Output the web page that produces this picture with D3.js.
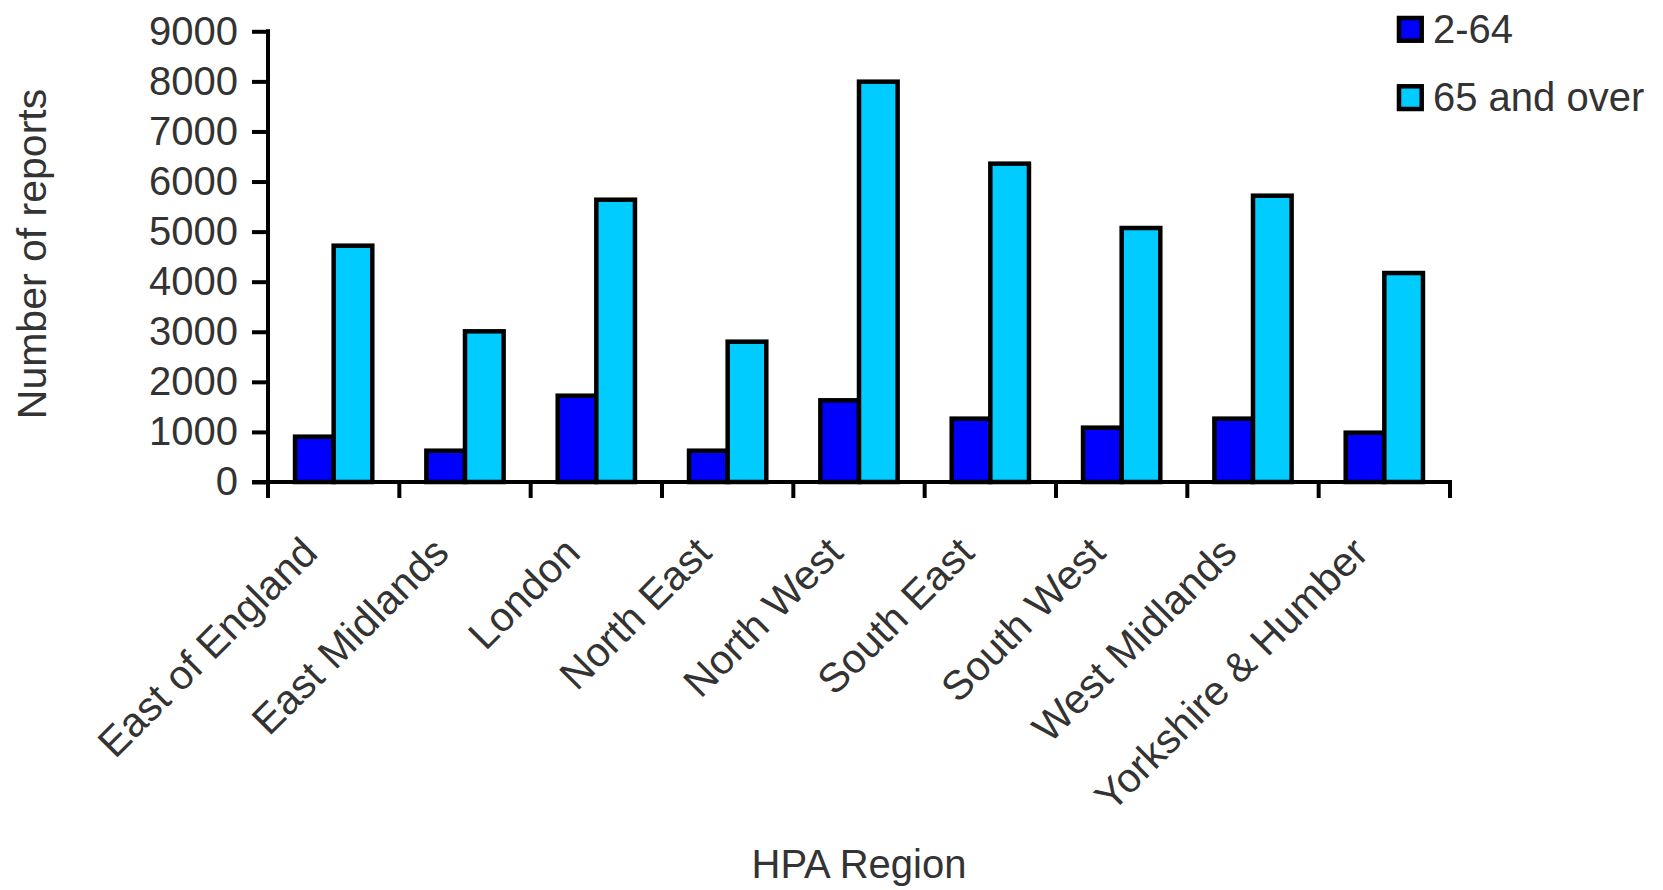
<!DOCTYPE html>
<html>
<head>
<meta charset="utf-8">
<script src="https://cdn.jsdelivr.net/npm/d3@7/dist/d3.min.js"></script>
<style>
  html, body { margin: 0; padding: 0; background: #fff; }
  svg { display: block; }
  text { font-family: "Liberation Sans", Arial, sans-serif; fill: #333; }
</style>
</head>
<body>
<svg id="chart" width="1663" height="890"></svg>
<script>
// Reports by HPA region, split by age group
const regions = ["East of England", "East Midlands", "London", "North East", "North West",
                 "South East", "South West", "West Midlands", "Yorkshire & Humber"];
const seriesNames = ["2-64", "65 and over"];
const age2to64 = [905, 625, 1723, 625, 1631, 1265, 1085, 1265, 985];
const age65plus = [4719, 3009, 5637, 2802, 7994, 6357, 5072, 5717, 4173];
const seriesColors = ["#0000ff", "#00ccff"];
const yTicks = [0, 1000, 2000, 3000, 4000, 5000, 6000, 7000, 8000, 9000];

const rows = regions.map((r, i) => ({ region: r, values: [age2to64[i], age65plus[i]] }));

const svg = d3.select("#chart");
const plotLeft = 268, plotRight = 1450, plotTop = 31.3, plotBottom = 482;

const x0 = d3.scaleBand().domain(regions).range([plotLeft, plotRight]).padding(0);
const x1 = d3.scaleBand().domain(seriesNames).range([0, x0.bandwidth()])
  .paddingInner(0).paddingOuter(0.7);
const y = d3.scaleLinear().domain([0, 9000]).range([plotBottom, plotTop]);

// Bars
const groups = svg.append("g").selectAll("g").data(rows).join("g")
  .attr("transform", d => `translate(${x0(d.region)},0)`);
groups.selectAll("rect")
  .data(d => d.values.map((v, k) => ({ name: seriesNames[k], value: v, k })))
  .join("rect")
  .attr("x", d => x1(d.name))
  .attr("y", d => y(d.value))
  .attr("width", x1.bandwidth())
  .attr("height", d => y(0) - y(d.value))
  .attr("fill", d => seriesColors[d.k])
  .attr("stroke", "#000")
  .attr("stroke-width", 4.5);

// Y axis
const yAxis = svg.append("g")
  .attr("transform", `translate(${plotLeft},0)`)
  .call(d3.axisLeft(y).tickValues(yTicks).tickFormat(d3.format("d"))
    .tickSize(16).tickPadding(14).tickSizeOuter(0));
yAxis.select(".domain").remove();
yAxis.selectAll(".tick line").attr("stroke", "#000").attr("stroke-width", 4);
yAxis.selectAll(".tick text")
  .attr("font-size", 40)
  .attr("fill", "#333")
  .style("font-family", '"Liberation Sans", Arial, sans-serif');

// Axis lines
svg.append("line")
  .attr("x1", plotLeft).attr("x2", plotLeft)
  .attr("y1", y(9000) - 2).attr("y2", plotBottom + 16)
  .attr("stroke", "#000").attr("stroke-width", 4);
svg.append("line")
  .attr("x1", plotLeft - 16).attr("x2", plotRight + 2)
  .attr("y1", plotBottom).attr("y2", plotBottom)
  .attr("stroke", "#000").attr("stroke-width", 4);

// Category boundary ticks on the x axis
const edges = regions.map(r => x0(r)).concat([x0(regions[regions.length - 1]) + x0.bandwidth()]);
svg.append("g").selectAll("line").data(edges).join("line")
  .attr("x1", d => d).attr("x2", d => d)
  .attr("y1", plotBottom).attr("y2", plotBottom + 16)
  .attr("stroke", "#000").attr("stroke-width", 4);

// Rotated category labels
svg.append("g").selectAll("text").data(regions).join("text")
  .attr("transform", d => `translate(${x0(d) + x0.bandwidth() / 2 - 14},555) rotate(-45)`)
  .attr("text-anchor", "end")
  .attr("font-size", 41)
  .text(d => d);

// Axis titles
svg.append("text")
  .attr("transform", "translate(46,254) rotate(-90)")
  .attr("text-anchor", "middle")
  .attr("font-size", 41)
  .text("Number of reports");
svg.append("text")
  .attr("x", (plotLeft + plotRight) / 2).attr("y", 878)
  .attr("text-anchor", "middle")
  .attr("font-size", 40)
  .text("HPA Region");

// Legend
const legend = svg.append("g").selectAll("g").data(seriesNames).join("g")
  .attr("transform", (d, i) => `translate(1399,${18 + i * 68.3})`);
legend.append("rect")
  .attr("width", 22.7).attr("height", 22.7)
  .attr("fill", (d, i) => seriesColors[i])
  .attr("stroke", "#000").attr("stroke-width", 4.5);
legend.append("text")
  .attr("x", 34).attr("y", 24.5)
  .attr("font-size", 40)
  .text(d => d);
</script>
</body>
</html>
